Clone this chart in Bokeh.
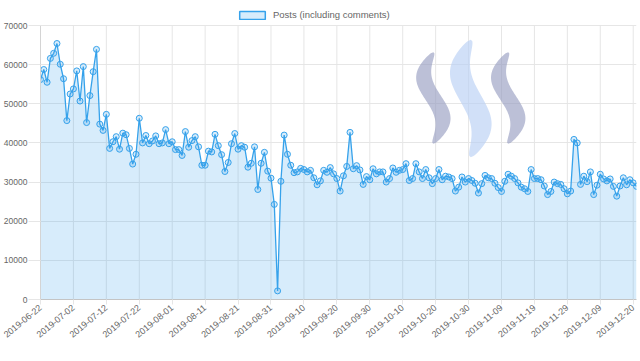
import numpy as np
import pandas as pd
from bokeh.plotting import figure
from bokeh.models import (Range1d, FixedTicker, Legend, LegendItem,
                          BasicTickFormatter, ColumnDataSource)
from bokeh.embed import file_html
from bokeh.resources import INLINE

# ---------------- data ----------------
all_days = pd.date_range("2019-06-22", "2019-12-21")
dates = [d.strftime("%Y-%m-%d") for d in all_days
         if d.strftime("%Y-%m-%d") != "2019-12-15"]

posts = [
    56200, 58750, 55500, 61600, 62900, 65400, 60100, 56400, 45700, 52500,
    53800, 58400, 50700, 59500, 45200, 52100, 58200, 63900, 44800, 43200,
    47300, 38600, 40300, 41600, 38400, 42500, 42100, 38600, 34600, 37100,
    46300, 40000, 41900, 39800, 40500, 41800, 39800, 40000, 43400, 39800,
    40300, 38300, 38300, 36800, 42900, 38900, 40600, 41600, 39000, 34300,
    34300, 37900, 37700, 42200, 39300, 37000, 32700, 35000, 39800, 42400,
    38400, 39300, 38900, 33800, 34800, 39000, 28100, 34800, 37600, 32800,
    31000, 24300, 2200, 30200, 42000, 37100, 34300, 32400, 32600, 33500,
    33200, 32600, 33000, 31100, 29300, 30300, 33000, 32500, 33700, 32100,
    30900, 27700, 31600, 34000, 42700, 33400, 34200, 33100, 29400, 31400,
    30600, 33400, 32100, 32600, 32600, 30000, 30900, 33600, 32500, 33000,
    33200, 34700, 30400, 30900, 34700, 32600, 30900, 33200, 31100, 29600,
    30900, 33200, 30600, 31500, 31300, 30900, 27700, 28700, 31300, 30000,
    30900, 30400, 29700, 27200, 29600, 31700, 31100, 30900, 29700, 28600,
    27600, 30200, 32000, 31500, 30900, 29800, 28700, 28300, 27600, 33200,
    30900, 30900, 30600, 29000, 26800, 27600, 30000, 29600, 29400, 28300,
    27000, 27700, 40900, 40000, 29400, 31500, 30100, 32600, 26800, 29200,
    32000, 30800, 30300, 30800, 28900, 26400, 29000, 31100, 29300, 30600,
    29800, 28900,
]
series_label = "Posts (including comments)"
x_tick_idx = list(range(0, 181, 10))
y_ticks = [0, 10000, 20000, 30000, 40000, 50000, 60000, 70000]
y_max = y_ticks[-1]

# ---------------- figure geometry (page pixels) ----------------
W, H = 640, 361
BL, BR, BT, BB = 39, 4, 2, 62
GRID_TOP = 25                     # pixel row of the top gridline
fw = W - BL - BR
fh = H - BT - BB
px_per_unit = (H - BB - GRID_TOP) / y_max
y_end = fh / px_per_unit
n = len(posts)

p = figure(width=W, height=H, output_backend="svg", toolbar_location=None,
           x_range=Range1d(0, n - 1), y_range=Range1d(0, y_end),
           min_border_left=BL, min_border_right=BR,
           min_border_top=BT, min_border_bottom=BB,
           background_fill_color="white", border_fill_color="white")
p.outline_line_color = None

GRID = "#e6e6e6"
TXT = "#666666"
FONT = "Liberation Sans"

p.xgrid.visible = False
p.ygrid.ticker = FixedTicker(ticks=y_ticks)
p.ygrid.grid_line_color = GRID

# vertical grid lines stop at the top tick
p.segment(x0=x_tick_idx, x1=x_tick_idx, y0=[0] * len(x_tick_idx),
          y1=[y_max] * len(x_tick_idx), line_color=GRID, line_width=1)

ya = p.yaxis[0]
ya.ticker = FixedTicker(ticks=y_ticks)
ya.bounds = (0, y_max)
ya.formatter = BasicTickFormatter(use_scientific=False)
ya.major_label_text_font_size = "8.5px"
ya.major_label_text_color = TXT
ya.major_label_text_font = FONT
ya.major_tick_out = 12
ya.major_tick_in = 0
ya.major_tick_line_color = GRID
ya.minor_tick_line_color = None
ya.major_label_standoff = 1
ya.axis_line_color = "#d4d4d4"

xa = p.xaxis[0]
xa.ticker = FixedTicker(ticks=x_tick_idx)
xa.major_label_overrides = {i: dates[i] for i in x_tick_idx}
xa.major_label_orientation = 0.69
xa.major_label_text_font_size = "9px"
xa.major_label_text_color = TXT
xa.major_label_text_font = FONT
xa.major_tick_out = 5
xa.major_tick_in = 0
xa.major_tick_line_color = GRID
xa.minor_tick_line_color = None
xa.major_label_standoff = 2
xa.axis_line_color = "#c4c4c4"

# ---------------- background logo (decoration) ----------------
def px_to_x(px):
    return (px - BL) / fw * (n - 1)
def px_to_y(py):
    return (H - BB - py) / px_per_unit

logo = [  # tip x, top y, bottom y, swing, width (pixels), colour
    (432.5, 51.7, 143.3, 9.5, 18, "#989ec2"),
    (470.0, 39.3, 156.7, 10.5, 24, "#b8d0f4"),
    (507.5, 51.7, 143.3, 9.5, 18, "#989ec2"),
]
t = np.linspace(0, 1, 80)
for xm, yt, yb, A, wd, col in logo:
    cx = xm - A * np.sin(2 * np.pi * t)
    half = wd / 2 * np.sqrt(np.clip(np.sin(np.pi * t), 0, 1))
    yy = yt + t * (yb - yt)
    xs = np.concatenate([cx + half, (cx - half)[::-1]])
    ys = np.concatenate([yy, yy[::-1]])
    p.patch(list(px_to_x(xs)), list(px_to_y(ys)), fill_color=col,
            fill_alpha=0.65, line_color=None)

# ---------------- data marks ----------------
BLUE = "#36a2eb"
src = ColumnDataSource(dict(x=list(range(n)), y=posts))
p.varea(x="x", y1=0, y2="y", source=src, fill_color=BLUE, fill_alpha=0.2)
p.line(x="x", y="y", source=src, line_color=BLUE, line_width=1.3)
p.scatter(x="x", y="y", source=src, size=6, line_color=BLUE, line_width=1,
          fill_color=BLUE, fill_alpha=0.2)

# ---------------- legend ----------------
leg_r = p.quad(left=[0], right=[0], top=[0], bottom=[0], fill_color=BLUE,
               fill_alpha=0.2, line_color=BLUE, line_width=1.5)
legend = Legend(items=[LegendItem(label=series_label, renderers=[leg_r])],
                location=(196, H - BB - 20), orientation="horizontal",
                glyph_width=32, glyph_height=10, label_height=10,
                label_standoff=5, padding=3, margin=0, spacing=0,
                border_line_color=None, background_fill_alpha=0,
                label_text_font_size="9.5px", label_text_color=TXT,
                label_text_font=FONT)
p.add_layout(legend, "center")

open("out.html", "w").write(file_html(p, INLINE))
